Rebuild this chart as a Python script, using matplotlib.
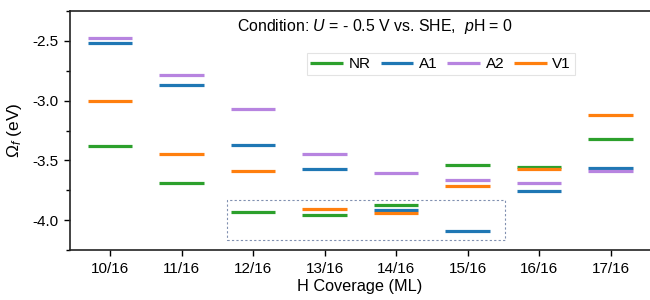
import numpy as np
import matplotlib.pyplot as plt
from matplotlib.patches import Rectangle
from matplotlib.ticker import MultipleLocator

plt.rcParams['font.family'] = ['Liberation Sans', 'DejaVu Sans']
plt.rcParams['mathtext.fontset'] = 'custom'
plt.rcParams['mathtext.rm'] = 'Liberation Sans'
plt.rcParams['mathtext.it'] = 'Liberation Sans:italic'

coverage = ['10/16', '11/16', '12/16', '13/16', '14/16', '15/16', '16/16', '17/16']
nr = [-3.383, -3.689, -3.936, -3.958, -3.875, -3.539, -3.558, -3.319]
a1 = [-2.517, -2.867, -3.375, -3.575, -3.919, -4.092, -3.758, -3.561]
a2 = [-2.472, -2.786, -3.070, -3.450, -3.603, -3.667, -3.686, -3.589]
v1 = [-3.000, -3.450, -3.586, -3.906, -3.942, -3.717, -3.575, -3.122]

series = [('NR', nr, '#2ca02c'), ('A1', a1, '#1f77b4'),
          ('A2', a2, '#b784e0'), ('V1', v1, '#ff7f0e')]

fig = plt.figure(figsize=(6.5, 3), dpi=100)
ax = fig.add_axes([0.1077, 0.1667, 0.8923, 0.7963])

x = np.arange(len(coverage))
hw = 0.31
for name, vals, col in series:
    ax.hlines(vals, x - hw, x + hw, color=col, linewidth=2.3, label=name)

# dashed box around the low-energy region
ax.add_patch(Rectangle((1.63, -4.164), 3.895, 0.333, fill=False,
                       edgecolor='#8090b0', linestyle=(0, (2, 2)), linewidth=0.8))

ax.set_xlim(-0.56, 7.55)
ax.set_ylim(-4.25, -2.25)
ax.set_xticks(x)
ax.set_xticklabels(coverage)
ax.yaxis.set_major_locator(MultipleLocator(0.5))
ax.yaxis.set_minor_locator(MultipleLocator(0.25))
ax.yaxis.set_major_formatter(plt.FormatStrFormatter('%.1f'))
ax.tick_params(axis='both', which='major', labelsize=11, length=4.5, width=1)
ax.tick_params(axis='x', which='major', pad=4)
ax.tick_params(axis='y', which='minor', length=3, width=1)
ax.spines['right'].set_visible(False)
for s in ['left', 'bottom', 'top']:
    ax.spines[s].set_linewidth(1.2)
    ax.spines[s].set_color('#222222')

ax.set_xlabel('H Coverage (ML)', fontsize=11.7, labelpad=2)
ax.set_ylabel(r'$\Omega_f$ (eV)', fontsize=12.5, labelpad=6)

ax.text(0.526, 0.937, r'Condition: $U$ = - 0.5 V vs. SHE,  $p$H = 0',
        transform=ax.transAxes, ha='center', va='center', fontsize=11.4)

leg = ax.legend(loc='upper left', bbox_to_anchor=(0.408, 0.824), ncol=4,
                fontsize=11, handlelength=2.15, columnspacing=0.65,
                handletextpad=0.35, fancybox=False, borderpad=0.25,
                borderaxespad=0)
leg.get_frame().set_edgecolor('#dddddd')
leg.get_frame().set_linewidth(0.8)

plt.savefig('out.png', dpi=100)
